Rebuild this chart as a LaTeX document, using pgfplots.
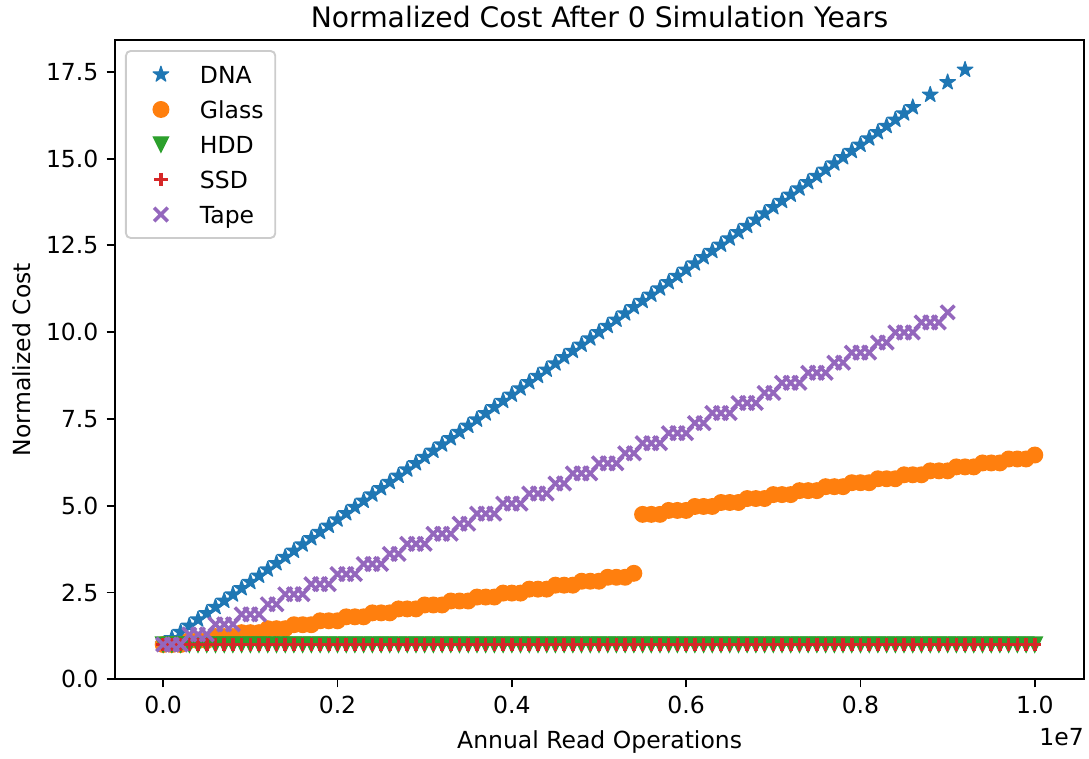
\documentclass[border=0pt]{standalone}
\usepackage{pgfplots}
\pgfplotsset{compat=1.18}
\usepackage{fontspec}
\setmainfont{DejaVu Sans}
\definecolor{c0}{HTML}{1F77B4}
\definecolor{c1}{HTML}{FF7F0E}
\definecolor{c2}{HTML}{2CA02C}
\definecolor{c3}{HTML}{D62728}
\definecolor{c4}{HTML}{9467BD}
\pgfdeclareplotmark{mstar}{%
  \pgfpathmoveto{\pgfpointpolar{90}{\pgfplotmarksize}}%
  \pgfpathlineto{\pgfpointpolar{126}{0.382\pgfplotmarksize}}%
  \pgfpathlineto{\pgfpointpolar{162}{\pgfplotmarksize}}%
  \pgfpathlineto{\pgfpointpolar{198}{0.382\pgfplotmarksize}}%
  \pgfpathlineto{\pgfpointpolar{234}{\pgfplotmarksize}}%
  \pgfpathlineto{\pgfpointpolar{270}{0.382\pgfplotmarksize}}%
  \pgfpathlineto{\pgfpointpolar{306}{\pgfplotmarksize}}%
  \pgfpathlineto{\pgfpointpolar{342}{0.382\pgfplotmarksize}}%
  \pgfpathlineto{\pgfpointpolar{18}{\pgfplotmarksize}}%
  \pgfpathlineto{\pgfpointpolar{54}{0.382\pgfplotmarksize}}%
  \pgfpathclose\pgfusepathqfillstroke}
\pgfdeclareplotmark{mtridown}{%
  \pgfpathmoveto{\pgfpoint{-\pgfplotmarksize}{\pgfplotmarksize}}%
  \pgfpathlineto{\pgfpoint{\pgfplotmarksize}{\pgfplotmarksize}}%
  \pgfpathlineto{\pgfpoint{0pt}{-\pgfplotmarksize}}%
  \pgfpathclose\pgfusepathqfillstroke}
\begin{document}
\begin{tikzpicture}
\begin{axis}[
  scale only axis,
  width=412.6pt, height=272.1pt,
  xmin=-0.0554, xmax=1.0568,
  ymin=0, ymax=18.42,
  clip=false,
  axis line style={line width=0.8pt},
  tick style={line width=0.8pt, black},
  tick align=outside,
  major tick length=3.5pt,
  xtick={0,0.2,0.4,0.6,0.8,1.0},
  ytick={0,2.5,5,7.5,10,12.5,15,17.5},
  xtick pos=bottom, ytick pos=left,
  /pgf/number format/assume math mode=true,
  xticklabel style={/pgf/number format/.cd, fixed, fixed zerofill, precision=1},
  yticklabel style={/pgf/number format/.cd, fixed, fixed zerofill, precision=1},
  ticklabel style={font=\fontsize{10}{12}\selectfont},
  title={Normalized Cost After 0 Simulation Years},
  every axis title/.style={at={(axis description cs:0.5,1.036)}, anchor=center, inner sep=0pt, font=\fontsize{12}{14}\selectfont},
  xlabel={Annual Read Operations},
  ylabel={Normalized Cost},
  every axis x label/.style={at={(axis description cs:0.5,-0.0975)}, anchor=center, inner sep=0pt, font=\fontsize{10}{12}\selectfont},
  every axis y label/.style={at={(axis description cs:-0.0965,0.5)}, rotate=90, anchor=center, inner sep=0pt, font=\fontsize{10}{12}\selectfont},
  legend style={at={(axis description cs:0,1)}, anchor=north west, xshift=4.3pt, yshift=-4.3pt,
    draw=black!20, line width=0.8pt, rounded corners=2pt, fill=white,
    font=\fontsize{10}{12}\selectfont, row sep=3pt, inner xsep=3pt, inner ysep=4.05pt,
    nodes={inner sep=2pt, text height=7.6pt, text depth=0.3pt}},
  legend cell align=left,
  legend image code/.code={%
    \path[draw=none, fill=none] (0pt,0pt) -- (26.5pt,0pt);
    \draw[#1] plot coordinates {(11.9pt,0pt)};},
]
\addplot[only marks, mark=mstar, color=c0, mark size=3.5pt, mark options={solid, line width=0.5pt, line join=round}] coordinates {
(0,1.00)(0.01,1.18)(0.02,1.36)(0.03,1.54)(0.04,1.72)(0.05,1.90)(0.06,2.08)(0.07,2.26)(0.08,2.44)(0.09,2.62)
(0.10,2.80)(0.11,2.98)(0.12,3.16)(0.13,3.34)(0.14,3.52)(0.15,3.70)(0.16,3.88)(0.17,4.06)(0.18,4.24)(0.19,4.42)
(0.20,4.60)(0.21,4.78)(0.22,4.96)(0.23,5.14)(0.24,5.32)(0.25,5.50)(0.26,5.68)(0.27,5.86)(0.28,6.04)(0.29,6.22)
(0.30,6.40)(0.31,6.58)(0.32,6.76)(0.33,6.94)(0.34,7.12)(0.35,7.30)(0.36,7.48)(0.37,7.66)(0.38,7.84)(0.39,8.02)
(0.40,8.20)(0.41,8.38)(0.42,8.56)(0.43,8.74)(0.44,8.92)(0.45,9.10)(0.46,9.28)(0.47,9.46)(0.48,9.64)(0.49,9.82)
(0.50,10.00)(0.51,10.18)(0.52,10.36)(0.53,10.54)(0.54,10.72)(0.55,10.90)(0.56,11.08)(0.57,11.26)(0.58,11.44)(0.59,11.62)
(0.60,11.80)(0.61,11.98)(0.62,12.16)(0.63,12.34)(0.64,12.52)(0.65,12.70)(0.66,12.88)(0.67,13.06)(0.68,13.24)(0.69,13.42)
(0.70,13.60)(0.71,13.78)(0.72,13.96)(0.73,14.14)(0.74,14.32)(0.75,14.50)(0.76,14.68)(0.77,14.86)(0.78,15.04)(0.79,15.22)
(0.80,15.40)(0.81,15.58)(0.82,15.76)(0.83,15.94)(0.84,16.12)(0.85,16.30)(0.86,16.48)(0.88,16.84)(0.90,17.20)(0.92,17.56)
};
\addlegendentry{DNA}
\addplot[only marks, mark=*, color=c1, mark size=3.3pt, mark options={solid, line width=0.6pt}] coordinates {
(0,1.000)(0.01,1.000)(0.02,1.000)(0.03,1.114)(0.04,1.114)(0.05,1.114)(0.06,1.228)(0.07,1.228)(0.08,1.228)(0.09,1.342)
(0.10,1.342)(0.11,1.342)(0.12,1.456)(0.13,1.456)(0.14,1.456)(0.15,1.570)(0.16,1.570)(0.17,1.570)(0.18,1.684)(0.19,1.684)
(0.20,1.684)(0.21,1.798)(0.22,1.798)(0.23,1.798)(0.24,1.912)(0.25,1.912)(0.26,1.912)(0.27,2.026)(0.28,2.026)(0.29,2.026)
(0.30,2.140)(0.31,2.140)(0.32,2.140)(0.33,2.254)(0.34,2.254)(0.35,2.254)(0.36,2.368)(0.37,2.368)(0.38,2.368)(0.39,2.482)
(0.40,2.482)(0.41,2.482)(0.42,2.596)(0.43,2.596)(0.44,2.596)(0.45,2.710)(0.46,2.710)(0.47,2.710)(0.48,2.824)(0.49,2.824)
(0.50,2.824)(0.51,2.938)(0.52,2.938)(0.53,2.938)(0.54,3.052)
(0.55,4.750)(0.56,4.750)(0.57,4.750)(0.58,4.864)(0.59,4.864)
(0.60,4.864)(0.61,4.978)(0.62,4.978)(0.63,4.978)(0.64,5.092)(0.65,5.092)(0.66,5.092)(0.67,5.206)(0.68,5.206)(0.69,5.206)
(0.70,5.320)(0.71,5.320)(0.72,5.320)(0.73,5.434)(0.74,5.434)(0.75,5.434)(0.76,5.548)(0.77,5.548)(0.78,5.548)(0.79,5.662)
(0.80,5.662)(0.81,5.662)(0.82,5.776)(0.83,5.776)(0.84,5.776)(0.85,5.890)(0.86,5.890)(0.87,5.890)(0.88,6.004)(0.89,6.004)
(0.90,6.004)(0.91,6.118)(0.92,6.118)(0.93,6.118)(0.94,6.232)(0.95,6.232)(0.96,6.232)(0.97,6.346)(0.98,6.346)(0.99,6.346)
(1.00,6.460)
};
\addlegendentry{Glass}
\addplot[only marks, mark=mtridown, color=c2, mark size=3.2pt, mark options={solid, line width=0.6pt}] coordinates {
(0,1)(0.01,1)(0.02,1)(0.03,1)(0.04,1)(0.05,1)(0.06,1)(0.07,1)(0.08,1)(0.09,1)
(0.10,1)(0.11,1)(0.12,1)(0.13,1)(0.14,1)(0.15,1)(0.16,1)(0.17,1)(0.18,1)(0.19,1)
(0.20,1)(0.21,1)(0.22,1)(0.23,1)(0.24,1)(0.25,1)(0.26,1)(0.27,1)(0.28,1)(0.29,1)
(0.30,1)(0.31,1)(0.32,1)(0.33,1)(0.34,1)(0.35,1)(0.36,1)(0.37,1)(0.38,1)(0.39,1)
(0.40,1)(0.41,1)(0.42,1)(0.43,1)(0.44,1)(0.45,1)(0.46,1)(0.47,1)(0.48,1)(0.49,1)
(0.50,1)(0.51,1)(0.52,1)(0.53,1)(0.54,1)(0.55,1)(0.56,1)(0.57,1)(0.58,1)(0.59,1)
(0.60,1)(0.61,1)(0.62,1)(0.63,1)(0.64,1)(0.65,1)(0.66,1)(0.67,1)(0.68,1)(0.69,1)
(0.70,1)(0.71,1)(0.72,1)(0.73,1)(0.74,1)(0.75,1)(0.76,1)(0.77,1)(0.78,1)(0.79,1)
(0.80,1)(0.81,1)(0.82,1)(0.83,1)(0.84,1)(0.85,1)(0.86,1)(0.87,1)(0.88,1)(0.89,1)
(0.90,1)(0.91,1)(0.92,1)(0.93,1)(0.94,1)(0.95,1)(0.96,1)(0.97,1)(0.98,1)(0.99,1)(1.00,1)
};
\addlegendentry{HDD}
\addplot[only marks, mark=+, color=c3, mark size=2.85pt, mark options={solid, line width=1.5pt}] coordinates {
(0,1)(0.01,1)(0.02,1)(0.03,1)(0.04,1)(0.05,1)(0.06,1)(0.07,1)(0.08,1)(0.09,1)
(0.10,1)(0.11,1)(0.12,1)(0.13,1)(0.14,1)(0.15,1)(0.16,1)(0.17,1)(0.18,1)(0.19,1)
(0.20,1)(0.21,1)(0.22,1)(0.23,1)(0.24,1)(0.25,1)(0.26,1)(0.27,1)(0.28,1)(0.29,1)
(0.30,1)(0.31,1)(0.32,1)(0.33,1)(0.34,1)(0.35,1)(0.36,1)(0.37,1)(0.38,1)(0.39,1)
(0.40,1)(0.41,1)(0.42,1)(0.43,1)(0.44,1)(0.45,1)(0.46,1)(0.47,1)(0.48,1)(0.49,1)
(0.50,1)(0.51,1)(0.52,1)(0.53,1)(0.54,1)(0.55,1)(0.56,1)(0.57,1)(0.58,1)(0.59,1)
(0.60,1)(0.61,1)(0.62,1)(0.63,1)(0.64,1)(0.65,1)(0.66,1)(0.67,1)(0.68,1)(0.69,1)
(0.70,1)(0.71,1)(0.72,1)(0.73,1)(0.74,1)(0.75,1)(0.76,1)(0.77,1)(0.78,1)(0.79,1)
(0.80,1)(0.81,1)(0.82,1)(0.83,1)(0.84,1)(0.85,1)(0.86,1)(0.87,1)(0.88,1)(0.89,1)
(0.90,1)(0.91,1)(0.92,1)(0.93,1)(0.94,1)(0.95,1)(0.96,1)(0.97,1)(0.98,1)(0.99,1)(1.00,1)
};
\addlegendentry{SSD}
\addplot[only marks, mark=x, color=c4, mark size=4.1pt, mark options={solid, line width=1.5pt}] coordinates {
(0,1.00)(0.01,1.00)(0.02,1.00)(0.03,1.29)(0.04,1.29)(0.05,1.29)(0.06,1.58)(0.07,1.58)(0.08,1.58)(0.09,1.87)
(0.10,1.87)(0.11,1.87)(0.12,2.16)(0.13,2.16)(0.14,2.45)(0.15,2.45)(0.16,2.45)(0.17,2.74)(0.18,2.74)(0.19,2.74)
(0.20,3.03)(0.21,3.03)(0.22,3.03)(0.23,3.32)(0.24,3.32)(0.25,3.32)(0.26,3.61)(0.27,3.61)(0.28,3.90)(0.29,3.90)
(0.30,3.90)(0.31,4.19)(0.32,4.19)(0.33,4.19)(0.34,4.48)(0.35,4.48)(0.36,4.77)(0.37,4.77)(0.38,4.77)(0.39,5.06)
(0.40,5.06)(0.41,5.06)(0.42,5.35)(0.43,5.35)(0.44,5.35)(0.45,5.64)(0.46,5.64)(0.47,5.93)(0.48,5.93)(0.49,5.93)
(0.50,6.22)(0.51,6.22)(0.52,6.22)(0.53,6.51)(0.54,6.51)(0.55,6.80)(0.56,6.80)(0.57,6.80)(0.58,7.09)(0.59,7.09)
(0.60,7.09)(0.61,7.38)(0.62,7.38)(0.63,7.67)(0.64,7.67)(0.65,7.67)(0.66,7.96)(0.67,7.96)(0.68,7.96)(0.69,8.25)
(0.70,8.25)(0.71,8.54)(0.72,8.54)(0.73,8.54)(0.74,8.83)(0.75,8.83)(0.76,8.83)(0.77,9.12)(0.78,9.12)(0.79,9.41)
(0.80,9.41)(0.81,9.41)(0.82,9.70)(0.83,9.70)(0.84,9.99)(0.85,9.99)(0.86,9.99)(0.87,10.28)(0.88,10.28)(0.89,10.28)
(0.90,10.57)
};
\addlegendentry{Tape}
\node[anchor=north east, inner sep=0pt, font=\fontsize{10}{12}\selectfont] at (rel axis cs:1,0) [yshift=-20.8pt] {1e7};
\end{axis}
\pgfresetboundingbox
\path ([shift={(-48.9pt,-33.9pt)}]current axis.south west) rectangle ([shift={(2pt,17pt)}]current axis.north east);
\end{tikzpicture}
\end{document}
